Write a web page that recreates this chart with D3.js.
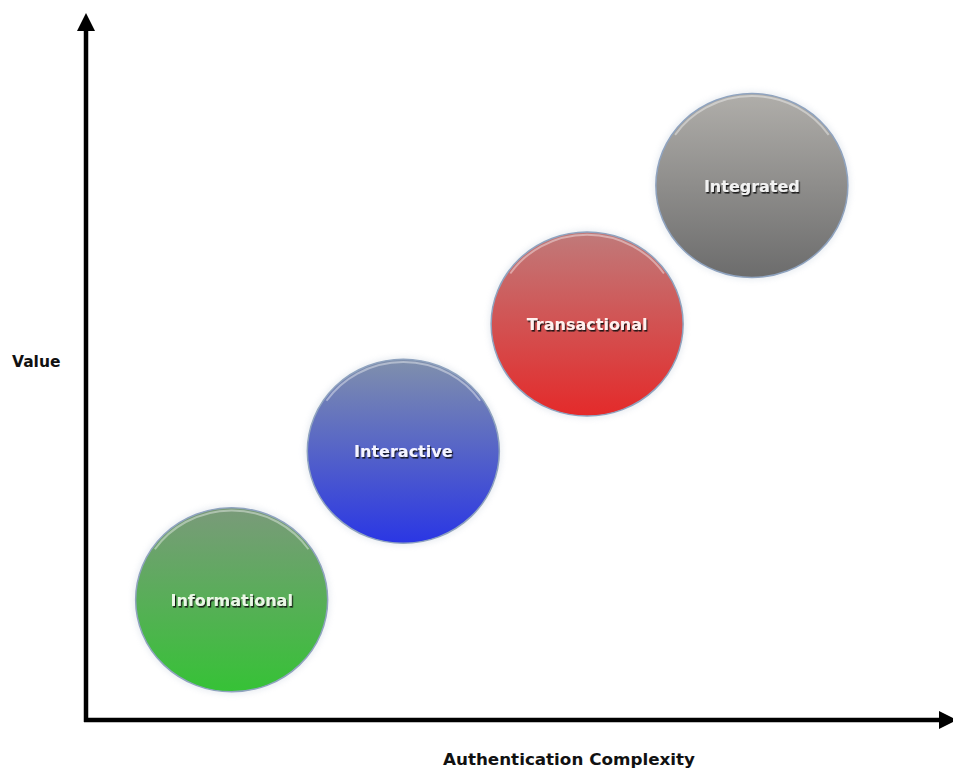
<!DOCTYPE html>
<html>
<head>
<meta charset="utf-8">
<script src="https://cdn.jsdelivr.net/npm/d3@7"></script>
<style>
  html, body { margin: 0; padding: 0; background: #fff; }
  svg { display: block; }
</style>
</head>
<body>
<script>
// ---- data ----
const categories = ["Informational", "Interactive", "Transactional", "Integrated"];
const complexity = [0.84, 1.83, 2.89, 3.84];   // x: Authentication Complexity
const value      = [0.85, 1.90, 2.80, 3.78];   // y: Value
const topColors    = ["#7a9a7a", "#8090ac", "#c07a7a", "#b0aeaa"];
const bottomColors = ["#36c236", "#2a36e4", "#e42a2a", "#6c6c6c"];
const labelColors  = ["#eaf7e6", "#f4f4ff", "#fff0ee", "#f2f2f2"];
const xTitle = "Authentication Complexity";
const yTitle = "Value";

// ---- layout ----
const W = 953, H = 769;
const x0 = 86, y0 = 720;
const svg = d3.select("body").append("svg").attr("width", W).attr("height", H);

const x = d3.scaleLinear().domain([0, 5]).range([x0, 953]);
const y = d3.scaleLinear().domain([0, 5]).range([y0, 13]);

const defs = svg.append("defs");
categories.forEach((c, i) => {
  const g = defs.append("linearGradient").attr("id", "grad" + i)
    .attr("x1", 0).attr("y1", 0).attr("x2", 0).attr("y2", 1);
  g.append("stop").attr("offset", "0%").attr("stop-color", topColors[i]);
  g.append("stop").attr("offset", "100%").attr("stop-color", bottomColors[i]);
});

const blur = defs.append("filter").attr("id", "glow").attr("x", "-20%").attr("y", "-20%").attr("width", "140%").attr("height", "140%");
blur.append("feGaussianBlur").attr("stdDeviation", 3);

const shadow = defs.append("filter").attr("id", "tshadow");
shadow.append("feDropShadow").attr("dx", 1.2).attr("dy", 1.6).attr("stdDeviation", 0.4)
  .attr("flood-color", "#111").attr("flood-opacity", 0.9);

// ---- axes ----
const axisColor = "#000";
svg.append("line").attr("x1", x0).attr("y1", y0 + 2).attr("x2", x0).attr("y2", y(5) + 16)
  .attr("stroke", axisColor).attr("stroke-width", 4.5);
svg.append("line").attr("x1", x0 - 2).attr("y1", y0).attr("x2", x(5) - 10).attr("y2", y0)
  .attr("stroke", axisColor).attr("stroke-width", 4.5);
// arrow heads
svg.append("path")
  .attr("d", `M${x0},${y(5)} L${x0 - 9},${y(5) + 18} L${x0 + 9},${y(5) + 18} Z`)
  .attr("fill", axisColor);
svg.append("path")
  .attr("d", `M${x(5) + 4},${y0} L${x(5) - 14},${y0 - 9} L${x(5) - 14},${y0 + 9} Z`)
  .attr("fill", axisColor);

// axis titles
svg.append("text").attr("x", 12).attr("y", 367)
  .attr("font-family", "DejaVu Sans, Verdana, sans-serif").attr("font-weight", "bold")
  .attr("font-size", 15.5).attr("fill", "#111").text(yTitle);
svg.append("text").attr("x", 569).attr("y", 765).attr("text-anchor", "middle")
  .attr("font-family", "DejaVu Sans, Verdana, sans-serif").attr("font-weight", "bold")
  .attr("font-size", 15.5).attr("fill", "#111")
  .attr("textLength", 252).attr("lengthAdjust", "spacingAndGlyphs").text(xTitle);

// ---- bubbles ----
const RX = 96, RY = 92;
const data = categories.map((c, i) => ({ c, i, x: complexity[i], y: value[i] }));

const g = svg.selectAll("g.bubble").data(data).join("g").attr("class", "bubble")
  .attr("transform", d => `translate(${x(d.x)},${y(d.y)})`);

g.append("ellipse").attr("rx", RX + 2).attr("ry", RY + 2)
  .attr("fill", "#b8c4d4").attr("opacity", 0.35).attr("filter", "url(#glow)");
g.append("ellipse").attr("rx", RX).attr("ry", RY)
  .attr("fill", d => `url(#grad${d.i})`)
  .attr("stroke", "#8fa3bf").attr("stroke-width", 1.5);
// glossy rim highlight at top
g.append("path")
  .attr("d", `M${-RX * 0.8},${-RY * 0.55} A${RX - 3},${RY - 3} 0 0 1 ${RX * 0.8},${-RY * 0.55}`)
  .attr("fill", "none").attr("stroke", "#fff").attr("stroke-opacity", 0.4).attr("stroke-width", 2);

g.append("text").attr("x", 0).attr("y", 6).attr("text-anchor", "middle")
  .attr("font-family", "DejaVu Sans, Verdana, sans-serif").attr("font-weight", "bold")
  .attr("font-size", 16).attr("fill", d => labelColors[d.i])
  .attr("filter", "url(#tshadow)")
  .text(d => d.c);
</script>
</body>
</html>
